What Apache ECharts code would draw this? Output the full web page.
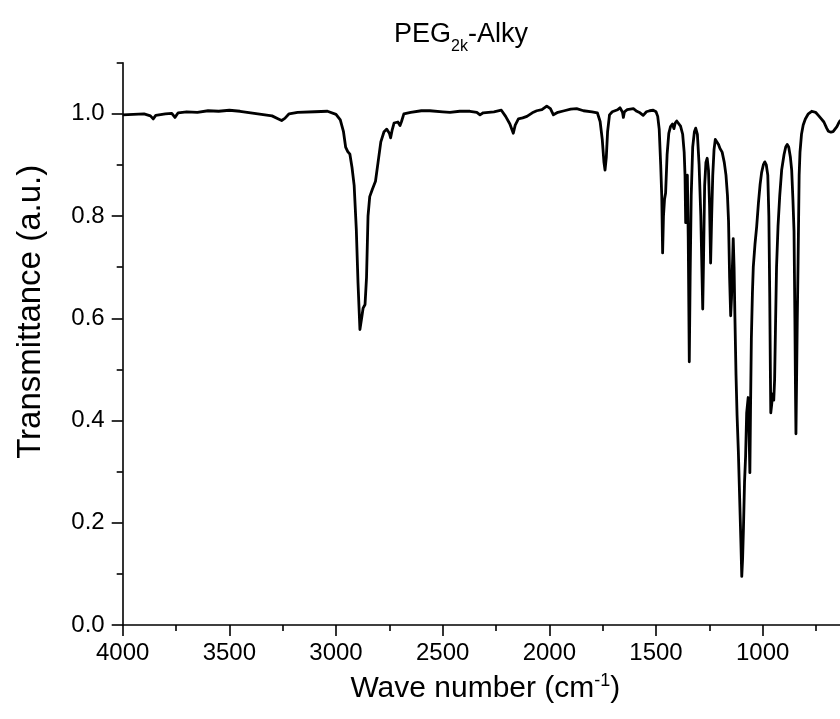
<!DOCTYPE html>
<html>
<head>
<meta charset="utf-8">
<script src="https://cdn.jsdelivr.net/npm/echarts@6/dist/echarts.min.js"></script>
<style>html,body{margin:0;padding:0;background:#fff}#c{width:840px;height:719px}</style>
</head>
<body>
<div id="c"></div>
<script>
// ---- data ----
var wavenumbers = [
4000,3950,3900,3870,3857,3845,3800,3770,3755,3740,3700,3650,3600,3550,3500,3450,3400,3350,3300,3270,3255,3240,3220,3180,3100,3040,3000,
2980,2965,2955,2945,2935,2925,2915,2905,2897,2888,2880,2873,2864,2857,2850,2842,2830,2815,2803,2790,2775,2762,2750,2744,2737,2728,2710,2700,2693,2682,
2650,2600,2560,2500,2466,2420,2372,2340,2325,2310,2260,2225,2205,2185,2169,2160,2145,2125,2105,2080,2059,2035,2012,1995,1981,1960,1930,1900,1872,1840,1800,
1775,1762,1752,1744,1739,1733,1727,1718,1705,1680,1669,1657,1653,1648,1635,1606,1590,1575,1560,1545,1530,1513,1500,1492,1485,1478,1473,1469,1465,1460,1455,
1448,1440,1432,1423,1416,1410,1403,1395,1385,1375,1368,1364,1361,1357,1353,1349,1344,1340,1335,1328,1320,1314,1306,1298,1290,1285,1281,1277,1272,1266,1260,
1254,1249,1244,1239,1234,1228,1222,1214,1207,1200,1190,1180,1172,1165,1160,1155,1150,1146,1142,1138,1134,1130,1125,1120,1114,1108,1102,1098,1094,1090,1085,
1080,1075,1068,1064,1060,1057,1053,1048,1044,1036,1028,1020,1012,1005,997,990,983,976,971,967,964,962,958,953,948,944,940,935,928,920,911,900,892,885,878,870,
864,858,853,849,846,844,841,838,834,829,825,818,810,800,786,770,763,752,739,725,713,700,692,680,670,661,652,645,638,630
];
var transmittance = [
0.998,0.999,1.000,0.996,0.990,0.997,1.000,1.001,0.993,1.002,1.004,1.003,1.006,1.005,1.007,1.005,1.002,0.999,0.996,0.990,0.987,0.991,1.000,1.003,1.004,1.005,0.999,
0.988,0.965,0.935,0.926,0.921,0.895,0.860,0.775,0.670,0.578,0.600,0.620,0.627,0.680,0.800,0.838,0.852,0.868,0.905,0.945,0.965,0.970,0.962,0.953,0.968,0.982,0.984,0.977,0.985,1.000,
1.003,1.006,1.006,1.004,1.003,1.005,1.005,1.003,0.998,1.002,1.004,1.007,0.995,0.980,0.962,0.978,0.990,0.992,0.995,1.002,1.006,1.008,1.015,1.010,0.998,1.003,1.006,1.009,1.010,1.006,1.004,
1.002,0.985,0.950,0.905,0.890,0.915,0.965,0.998,1.004,1.008,1.012,1.003,0.993,1.004,1.008,1.010,1.005,1.002,0.997,1.004,1.006,1.007,1.004,0.995,0.970,0.900,0.838,0.728,0.800,0.833,0.845,
0.920,0.962,0.975,0.980,0.971,0.982,0.986,0.984,0.976,0.960,0.925,0.880,0.787,0.870,0.880,0.760,0.515,0.680,0.840,0.935,0.965,0.972,0.960,0.900,0.800,0.700,0.618,0.720,0.860,0.905,0.913,
0.890,0.820,0.708,0.800,0.880,0.930,0.950,0.947,0.940,0.932,0.925,0.905,0.880,0.840,0.790,0.680,0.605,0.640,0.700,0.756,0.700,0.600,0.490,0.410,0.340,0.250,0.160,0.095,0.130,0.190,0.280,
0.330,0.415,0.445,0.380,0.298,0.420,0.560,0.650,0.700,0.745,0.780,0.825,0.862,0.885,0.900,0.906,0.900,0.880,0.800,0.650,0.500,0.415,0.430,0.452,0.440,0.480,0.580,0.700,0.780,0.840,0.890,0.920,0.935,0.940,0.935,0.915,
0.890,0.830,0.770,0.600,0.450,0.374,0.480,0.590,0.710,0.880,0.925,0.960,0.978,0.990,1.000,1.005,1.007,1.003,0.997,0.990,0.984,0.972,0.966,0.964,0.965,0.966,0.975,0.981,0.986,0.988
];
var xMajorTicks = [4000,3500,3000,2500,2000,1500,1000];
var xMinorTicks = [3750,3250,2750,2250,1750,1250,750];
var yMajorTicks = [0,0.2,0.4,0.6,0.8,1.0];
var yMinorTicks = [0.1,0.3,0.5,0.7,0.9,1.1];

var seriesData = wavenumbers.map(function(w,i){ return [w, transmittance[i]]; });
var FONT = '"Liberation Sans", Arial, sans-serif';
var axisLineStyle = {color:'#000', width:1.6};

var chart = echarts.init(document.getElementById('c'), null, {renderer:'canvas'});
chart.setOption({
  animation:false,
  backgroundColor:'#fff',
  title:{
    text:'{a|PEG}{b|2k}{a|-Alky}',
    left:389, top:10,
    textStyle:{
      rich:{
        a:{fontFamily:FONT, fontSize:27, fontWeight:'normal', color:'#000'},
        b:{fontFamily:FONT, fontSize:16, fontWeight:'normal', color:'#000', padding:[24,0,0,0]}
      }
    }
  },
  grid:{left:122.7, top:62.7, width:725.3, height:562.3, containLabel:false, outerBoundsMode:'none'},
  xAxis:[{
    type:'value', min:600, max:4000, inverse:true, position:'bottom',
    axisLine:{show:true, lineStyle:axisLineStyle},
    axisTick:{show:true, inside:false, length:11, lineStyle:axisLineStyle, customValues:xMajorTicks},
    axisLabel:{show:true, customValues:xMajorTicks, margin:16, fontFamily:FONT, fontSize:24, color:'#000',
      formatter:function(v){return String(v);}},
    splitLine:{show:false},
    name:'Wave number (cm{sup|-1})', nameLocation:'middle', nameGap:47,
    nameTextStyle:{fontFamily:FONT, fontSize:30, color:'#000',
      rich:{sup:{fontFamily:FONT, fontSize:18, color:'#000', padding:[0,0,15,0]}}}
  },{
    type:'value', min:600, max:4000, inverse:true, position:'bottom',
    axisLine:{show:false},
    axisTick:{show:true, inside:false, length:6, lineStyle:axisLineStyle, customValues:xMinorTicks},
    axisLabel:{show:false}, splitLine:{show:false}
  }],
  yAxis:[{
    type:'value', min:0, max:1.1, position:'left',
    axisLine:{show:true, lineStyle:axisLineStyle},
    axisTick:{show:true, inside:false, length:11, lineStyle:axisLineStyle, customValues:yMajorTicks},
    axisLabel:{show:true, customValues:yMajorTicks, margin:18, fontFamily:FONT, fontSize:24, color:'#000',
      formatter:function(v){return v.toFixed(1);}},
    splitLine:{show:false},
    name:'Transmittance (a.u.)', nameLocation:'middle', nameGap:75,
    nameTextStyle:{fontFamily:FONT, fontSize:33, color:'#000', padding:[0,0,0,64]}
  },{
    type:'value', min:0, max:1.1, position:'left',
    axisLine:{show:false},
    axisTick:{show:true, inside:false, length:6, lineStyle:axisLineStyle, customValues:yMinorTicks},
    axisLabel:{show:false}, splitLine:{show:false}
  }],
  series:[{
    type:'line', xAxisIndex:0, yAxisIndex:0, data:seriesData,
    showSymbol:false, symbol:'none', smooth:false,
    lineStyle:{color:'#000', width:2.8, join:'round'}
  }]
});
</script>
</body>
</html>
